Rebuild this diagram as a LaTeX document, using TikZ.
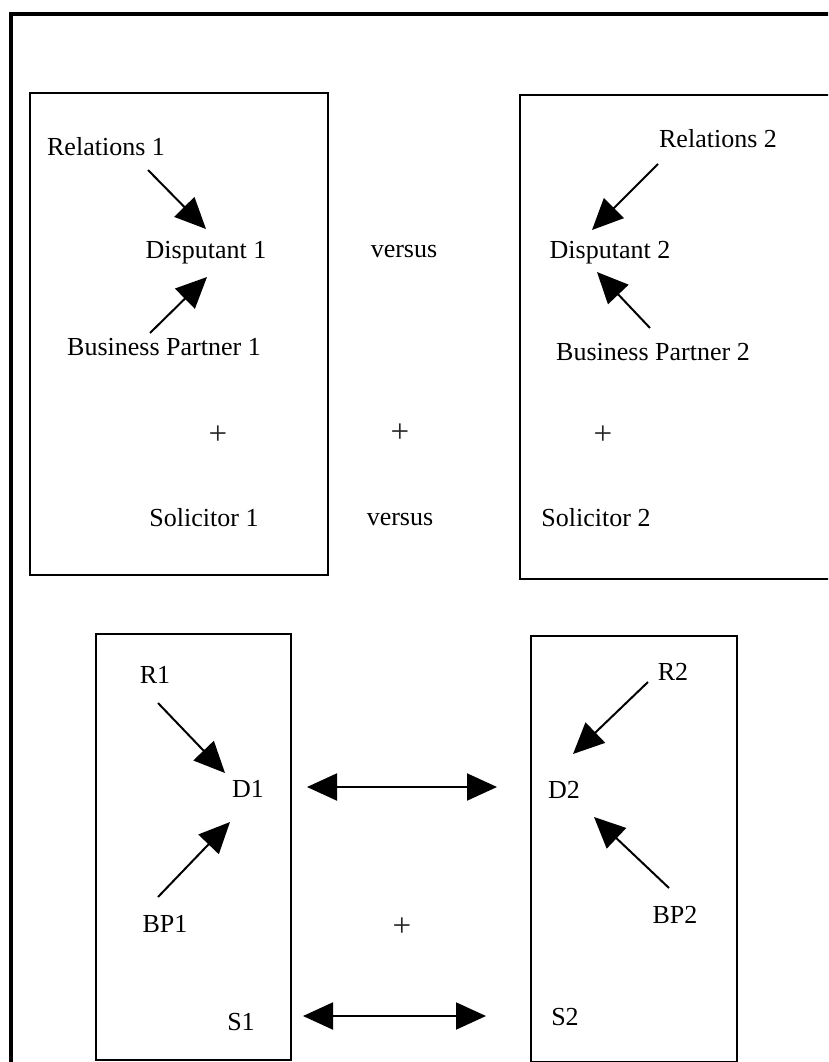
\documentclass[tikz,border=0pt]{standalone}
\usepackage{fontspec}
\setmainfont{Liberation Serif}
\usetikzlibrary{arrows.meta}
\tikzset{
  lbl/.style={inner sep=0pt, anchor=base, font=\fontsize{26}{30}\selectfont},
  plussign/.style={inner sep=0pt, anchor=center, text=black!85, font=\fontsize{33}{36}\selectfont},
  frame/.style={line width=2pt},
  arr/.style={line width=2pt, -{Triangle[length=31pt,width=28pt]}},
  darr/.style={line width=2pt, {Triangle[length=30pt,width=27pt]}-{Triangle[length=30pt,width=27pt]}}
}
\begin{document}
\begin{tikzpicture}[x=1pt,y=-1pt]
\useasboundingbox (0,0) rectangle (828,1062);
\clip (0,0) rectangle (828,1062);
\fill[white] (0,0) rectangle (828,1062);
% outer border
\draw[line width=4.5pt] (11,14) rectangle (900,1120);
% boxes
\draw[frame] (30,93) rectangle (328,575);
\draw[frame] (520,95) rectangle (900,579);
\draw[frame] (96,634) rectangle (291,1060);
\draw[frame] (531,636) rectangle (737,1061.5);

% top left
\node[lbl] (rel1) at (106,155) {Relations 1};
\node[lbl] (disp1) at (206,258) {Disputant 1};
\node[lbl] (bp1) at (164,355) {Business Partner 1};
\node[plussign] (plus1) at (218,435) {+};
\node[lbl] (sol1) at (204,526) {Solicitor 1};
% middle
\node[lbl] (vs1) at (404,257) {versus};
\node[plussign] (plusm) at (400,433) {+};
\node[lbl] (vs2) at (400,525) {versus};
% top right
\node[lbl] (rel2) at (718,147) {Relations 2};
\node[lbl] (disp2) at (610,258) {Disputant 2};
\node[lbl] (bp2) at (653,360) {Business Partner 2};
\node[plussign] (plus2) at (603,435) {+};
\node[lbl] (sol2) at (596,526) {Solicitor 2};

% lower left
\node[lbl] (r1) at (155,683) {R1};
\node[lbl] (d1) at (248,797) {D1};
\node[lbl] (bpa) at (165,932) {BP1};
\node[lbl] (s1) at (241,1030) {S1};
% lower middle
\node[plussign] (plusl) at (402,927) {+};
% lower right
\node[lbl] (r2) at (673,680) {R2};
\node[lbl] (d2) at (564,798) {D2};
\node[lbl] (bpb) at (675,923) {BP2};
\node[lbl] (s2) at (565,1025) {S2};

% connector end points
\coordinate (rel1e) at (148,170);   \coordinate (disp1n) at (206,229);
\coordinate (bp1e) at (150,333);    \coordinate (disp1s) at (207,277);
\coordinate (rel2e) at (658,164);   \coordinate (disp2n) at (592,230);
\coordinate (bp2e) at (650,328);    \coordinate (disp2s) at (597,272);
\coordinate (r1e) at (158,703);     \coordinate (d1n) at (225,773);
\coordinate (bpae) at (158,897);    \coordinate (d1s) at (230,822);
\coordinate (r2e) at (648,682);     \coordinate (d2n) at (573,754);
\coordinate (bpbe) at (669,888);    \coordinate (d2s) at (594,817);
\coordinate (d1e) at (307,787);     \coordinate (d2w) at (497,787);
\coordinate (s1e) at (303,1016);    \coordinate (s2w) at (486,1016);

\draw[arr] (rel1e) -- (disp1n);
\draw[arr] (bp1e) -- (disp1s);
\draw[arr] (rel2e) -- (disp2n);
\draw[arr] (bp2e) -- (disp2s);
\draw[arr] (r1e) -- (d1n);
\draw[arr] (bpae) -- (d1s);
\draw[arr] (r2e) -- (d2n);
\draw[arr] (bpbe) -- (d2s);
\draw[darr] (d1e) -- (d2w);
\draw[darr] (s1e) -- (s2w);
\end{tikzpicture}
\end{document}
